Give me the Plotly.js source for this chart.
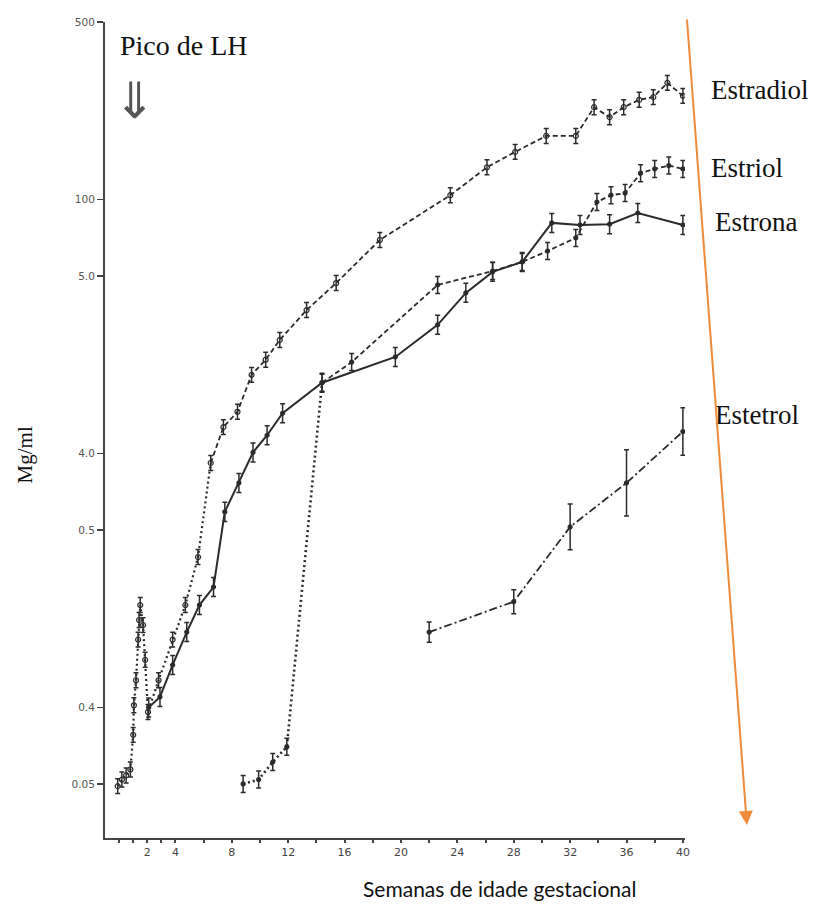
<!DOCTYPE html>
<html>
<head>
<meta charset="utf-8">
<script src="https://cdn.plot.ly/plotly-3.0.1.min.js"></script>
<style>html,body{margin:0;padding:0;background:#fff;}#chart{width:816px;height:907px;}</style>
</head>
<body>
<div id="chart"></div>
<script>
// ---- data (weeks of gestation, concentration) ----
const estradiolWeeks = [-0.1,0.2,0.5,0.8,1.0,1.05,1.2,1.35,1.42,1.5,1.7,1.85,2.05,2.8,3.8,4.7,5.6,6.5,7.4,8.4,9.4,10.4,11.4,13.3,15.4,18.5,23.5,26.1,28.1,30.3,32.4,33.7,34.8,35.8,36.9,37.9,38.9,40];
const estradiolValues = [0.49,0.52,0.54,0.57,0.78,1.02,1.28,1.85,2.21,2.53,2.11,1.54,0.96,1.28,1.85,2.53,3.91,9.18,12.7,14.6,20.4,23.4,28.0,36.7,46.9,69.3,104,134,154,178,178,231,211,231,247,253,288,256];

const estronaWeeks = [2.1,2.9,3.8,4.8,5.7,6.7,7.5,8.5,9.5,10.5,11.6,14.4,19.6,22.6,24.6,26.5,28.6,30.7,32.7,34.8,36.8,40];
const estronaValues = [1.0,1.10,1.47,1.98,2.53,2.98,5.89,7.66,10.1,11.8,14.4,19.0,24.0,32.1,42.9,51.9,56.8,80.9,79.4,80,88.5,79.4];

const estriolWeeks = [8.8,9.9,10.9,11.9,14.4,16.5,22.6,26.5,28.6,30.4,32.4,33.9,34.9,35.9,37.0,38.0,39.0,40];
const estriolValues = [0.50,0.52,0.61,0.70,19.0,22.9,46.1,52.3,56.8,62.7,70.6,97.8,104,106,127,132,136,132];

const estetrolWeeks = [22,28,32,36,40];
const estetrolValues = [1.98,2.61,5.14,7.66,12.2];
const estetrolErrFactor = [1.095,1.115,1.23,1.35,1.24];

const estradiolErrFactor = 1.07;
const estronaErrFactor = 1.09;
const estriolErrFactor = 1.08;

const yTickVals = [500,100,50,10,5,1,0.5];
const yTickText = ["500","100","5.0","4.0","0.5","0.4","0.05"];
const xTickVals = [0,1,2,3,4,6,8,10,12,14,16,18,20,22,24,26,28,30,32,34,36,38,40];
const xLabelled = [2,4,8,12,16,20,24,28,32,36,40];

// ---- helpers ----
const INK = '#2b2b2b';
function errs(vals, f) {
  const fs = vals.map((v,i)=> Array.isArray(f) ? f[i] : f);
  return {
    type:'data', symmetric:false,
    array: vals.map((v,i)=> v*(fs[i]-1)),
    arrayminus: vals.map((v,i)=> v*(1-1/fs[i])),
    color: INK, thickness: 1.5, width: 2.5
  };
}
function segment(xs, ys, from, to, dash, width) {
  return {
    x: xs.slice(from, to), y: ys.slice(from, to), type:'scatter', mode:'lines',
    line:{color:INK, width:width||1.8, dash:dash}, hoverinfo:'skip', showlegend:false
  };
}
function markers(xs, ys, f, symbol, size) {
  return {
    x: xs, y: ys, type:'scatter', mode:'markers',
    marker:{symbol:symbol, size:size, color:INK, line:{color:INK, width:1.2}},
    error_y: errs(ys, f), showlegend:false
  };
}
const idxBreak = (ws, w) => ws.findIndex(v => v >= w);

const e2Split = idxBreak(estradiolWeeks, 6.5);
const e3Split = idxBreak(estriolWeeks, 14.4);

const traces = [
  segment(estradiolWeeks, estradiolValues, 0, e2Split+1, '2px,3px', 2.2),
  segment(estradiolWeeks, estradiolValues, e2Split, estradiolWeeks.length, '5px,3px'),
  segment(estronaWeeks, estronaValues, 0, estronaWeeks.length, 'solid', 2),
  segment(estriolWeeks, estriolValues, 0, e3Split+1, '2px,3px', 2.6),
  segment(estriolWeeks, estriolValues, e3Split, estriolWeeks.length, '5px,3px'),
  segment(estetrolWeeks, estetrolValues, 0, estetrolWeeks.length, '8px,3px,2px,3px'),
  markers(estradiolWeeks, estradiolValues, estradiolErrFactor, 'circle-open', 5),
  markers(estronaWeeks, estronaValues, estronaErrFactor, 'circle', 4),
  markers(estriolWeeks, estriolValues, estriolErrFactor, 'circle', 4),
  markers(estetrolWeeks, estetrolValues, estetrolErrFactor, 'circle', 4)
];

const serif = 'Liberation Serif, Times New Roman, serif';
function label(text, x, y, size, extra) {
  return Object.assign({text:text, xref:'paper', yref:'paper', x:x, y:y, showarrow:false,
    xanchor:'left', yanchor:'middle', font:{family:serif, size:size, color:'#111'}}, extra||{});
}

const layout = {
  width:816, height:907,
  margin:{l:105, r:131, t:22, b:69},
  paper_bgcolor:'#fff', plot_bgcolor:'#fff',
  showlegend:false,
  xaxis:{
    range:[-1.0, 40.15], showgrid:false, zeroline:false,
    showline:true, linecolor:'#444', linewidth:2,
    tickmode:'array', tickvals:xTickVals,
    ticktext:xTickVals.map(v => xLabelled.includes(v) ? String(v) : ''),
    ticks:'outside', ticklen:3, tickwidth:2, tickcolor:'#444',
    tickfont:{family:'DejaVu Sans', size:11, color:'#444'}
  },
  yaxis:{
    type:'log', range:[-0.514, 2.699], showgrid:false, zeroline:false,
    showline:true, linecolor:'#444', linewidth:2,
    tickmode:'array', tickvals:yTickVals, ticktext:yTickText,
    ticks:'outside', ticklen:6, tickwidth:1.5, tickcolor:'#444',
    tickfont:{family:'DejaVu Sans', size:10.5, color:'#555'}
  },
  annotations:[
    label('Pico de LH', 0.0224, 0.9706, 28),
    {text:'⇓', xref:'paper', yref:'paper', x:0.0516, y:0.903, showarrow:false,
     xanchor:'center', yanchor:'middle', font:{family:'DejaVu Sans', size:50, color:'#555'}},
    label('Estradiol', 1.0413, 0.9167, 27),
    label('Estriol', 1.0413, 0.8211, 27),
    label('Estrona', 1.0482, 0.7549, 27),
    label('Estetrol', 1.0482, 0.5184, 27),
    label('Mg/ml', -0.1377, 0.469, 21, {xanchor:'center', textangle:-90}),
    {text:'Semanas de idade gestacional', xref:'paper', yref:'paper', x:0.68, y:-0.0613,
     showarrow:false, xanchor:'center', yanchor:'middle', font:{family:'Lato, Open Sans, sans-serif', size:21, color:'#111'}},
    {text:'', xref:'paper', yref:'paper', x:1.1067, y:0.0159, ax:-60, ay:-807,
     showarrow:true, arrowhead:2, arrowsize:1.4, arrowwidth:2, arrowcolor:'#ED8B3A'}
  ]
};

Plotly.newPlot('chart', traces, layout, {displayModeBar:false, staticPlot:true});
</script>
</body>
</html>
